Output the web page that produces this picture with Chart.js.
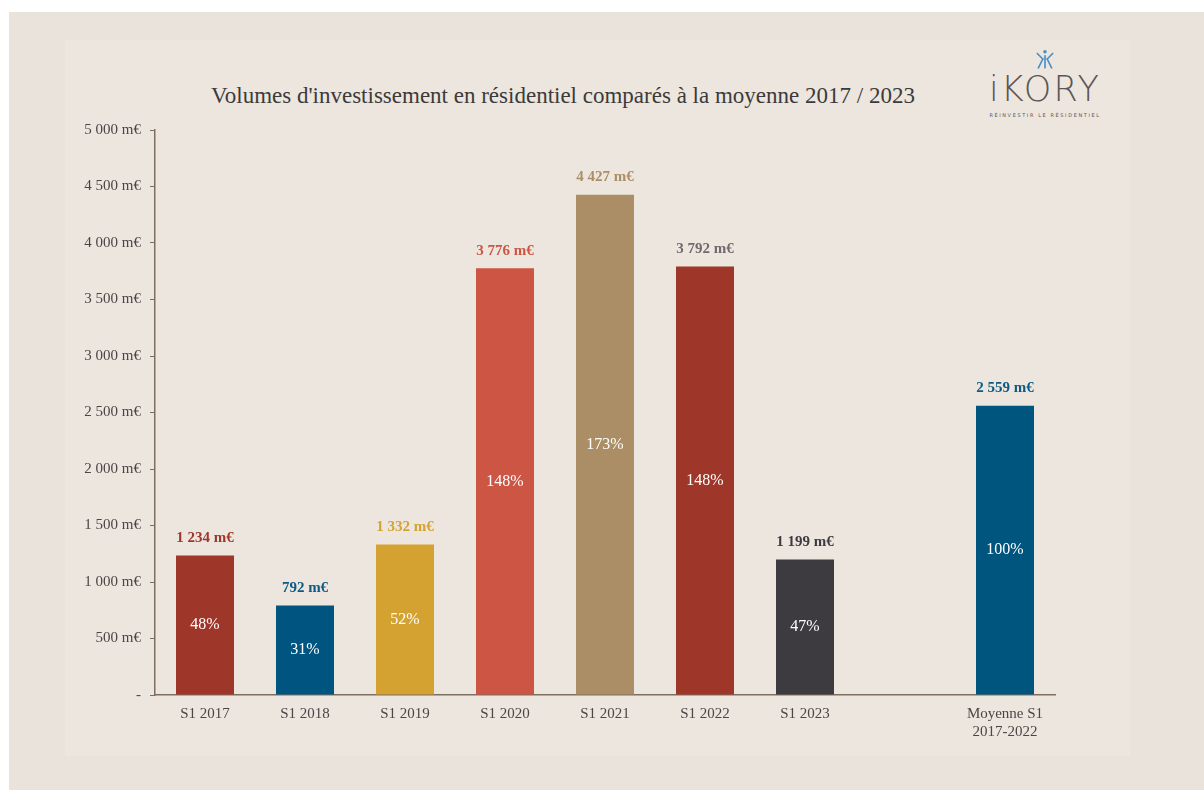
<!DOCTYPE html>
<html lang="fr">
<head>
    <meta charset="UTF-8">
    <title>Volumes d'investissement en résidentiel</title>
    <script src="https://cdn.jsdelivr.net/npm/chart.js"></script>
    <style>
        body {
            margin: 0;
            padding: 0;
            background: #ffffff;
            width: 1204px;
            height: 790px;
            overflow: hidden;
            position: relative;
        }

        .page {
            position: absolute;
            left: 9px;
            top: 12px;
            width: 1195px;
            height: 790px;
            background: #eae3dc;
        }

        .card {
            position: absolute;
            left: 65px;
            top: 40px;
            width: 1065px;
            height: 716px;
            background: #ece6df;
        }

        .title {
            position: absolute;
            left: 0;
            width: 1126px;
            top: 83px;
            text-align: center;
            font-family: "Liberation Serif", serif;
            font-size: 23px;
            color: #3c3a3a;
        }

        .logo {
            position: absolute;
            left: 970px;
            top: 48px;
            width: 150px;
            text-align: center;
            font-family: "DejaVu Sans", sans-serif;
            color: #5c5656;
        }

        .logo .name {
            font-size: 35px;
            font-weight: 300;
            letter-spacing: 2px;
            line-height: 34px;
            margin-top: -2px;
        }

        .logo .tag {
            font-size: 5px;
            letter-spacing: 1.6px;
            margin-top: 6px;
        }

        canvas {
            position: absolute;
            left: 0;
            top: 0;
        }
    </style>
</head>
<body>
    <div class="page"></div>
    <div class="card"></div>
    <div class="title">Volumes d'investissement en résidentiel comparés à la moyenne 2017 / 2023</div>
    <div class="logo">
        <svg width="22" height="22" viewBox="0 0 20 20">
            <g stroke="#4a8fc4" stroke-width="1.5" fill="none" stroke-linecap="round">
                <line x1="3" y1="5" x2="8" y2="10"/>
                <line x1="8" y1="10" x2="4" y2="18"/>
                <line x1="17" y1="5" x2="12" y2="10"/>
                <line x1="12" y1="10" x2="16" y2="18"/>
                <line x1="10" y1="7" x2="10" y2="18"/>
            </g>
            <circle cx="10" cy="3.5" r="1.6" fill="#4a8fc4"/>
        </svg>
        <div class="name">iKORY</div>
        <div class="tag">RÉINVESTIR LE RÉSIDENTIEL</div>
    </div>
    <canvas id="chart" width="1204" height="790"></canvas>

    <script>
        // periods on the x axis (empty slot before the average)
        const labels = ['S1 2017', 'S1 2018', 'S1 2019', 'S1 2020', 'S1 2021', 'S1 2022', 'S1 2023', '', ['Moyenne S1', '2017-2022']];
        // volumes in m€
        const volumes = [1234, 792, 1332, 3776, 4427, 3792, 1199, null, 2559];
        // share of the average
        const shares = ['48%', '31%', '52%', '148%', '173%', '148%', '47%', '', '100%'];
        const yTicks = [0, 500, 1000, 1500, 2000, 2500, 3000, 3500, 4000, 4500, 5000];

        const barColors = ['#9e3629', '#005580', '#d4a231', '#cc5543', '#ac8e66', '#9e3629', '#3e3b40', '#000000', '#00557f'];
        const valueColors = ['#9e3629', '#0d5a82', '#d4a231', '#cc5543', '#ac8e66', '#6e6a6e', '#3e3b40', '#000000', '#0d5a82'];

        const axisColor = '#7d6e60';
        const textColor = '#4a4646';
        const serif = '"Liberation Serif", serif';

        function fmt(v) {
            return String(v).replace(/\B(?=(\d{3})+(?!\d))/g, ' ') + ' m€';
        }

        const barLabels = {
            id: 'barLabels',
            afterDatasetsDraw(chart) {
                const ctx = chart.ctx;
                const meta = chart.getDatasetMeta(0);
                ctx.save();
                ctx.textAlign = 'center';
                meta.data.forEach((bar, i) => {
                    const v = volumes[i];
                    if (v === null) return;
                    ctx.font = 'bold 15px ' + serif;
                    ctx.fillStyle = valueColors[i];
                    ctx.textBaseline = 'bottom';
                    ctx.fillText(fmt(v), bar.x, bar.y - 10);
                    ctx.font = '16px ' + serif;
                    ctx.fillStyle = '#ffffff';
                    ctx.textBaseline = 'middle';
                    ctx.fillText(shares[i], bar.x, (bar.y + bar.base) / 2);
                });
                ctx.restore();
            }
        };

        new Chart(document.getElementById('chart'), {
            type: 'bar',
            data: {
                labels: labels,
                datasets: [{
                    data: volumes,
                    backgroundColor: barColors,
                    borderWidth: 0,
                    barPercentage: 0.58,
                    categoryPercentage: 1,
                }],
            },
            options: {
                responsive: false,
                animation: false,
                layout: {
                    padding: { top: 130, right: 149, bottom: 0, left: 0 }
                },
                plugins: {
                    legend: { display: false },
                    tooltip: { enabled: false },
                },
                scales: {
                    x: {
                        afterFit: (s) => { s.height = 95; },
                        grid: { display: false, drawTicks: false },
                        border: { color: axisColor, width: 1.5 },
                        ticks: {
                            color: textColor,
                            font: { family: serif, size: 15 },
                            padding: 10,
                            maxRotation: 0,
                            autoSkip: false,
                        },
                    },
                    y: {
                        min: 0,
                        max: 5000,
                        afterFit: (s) => { s.width = 155; },
                        afterBuildTicks: (s) => { s.ticks = yTicks.map(v => ({ value: v })); },
                        grid: { drawOnChartArea: false, drawTicks: true, tickLength: 5, color: axisColor },
                        border: { color: axisColor, width: 1.5 },
                        ticks: {
                            color: textColor,
                            font: { family: serif, size: 15 },
                            padding: 9,
                            callback: (v) => v === 0 ? '-' : fmt(v),
                        },
                    },
                },
            },
            plugins: [barLabels],
        });
    </script>
</body>
</html>
